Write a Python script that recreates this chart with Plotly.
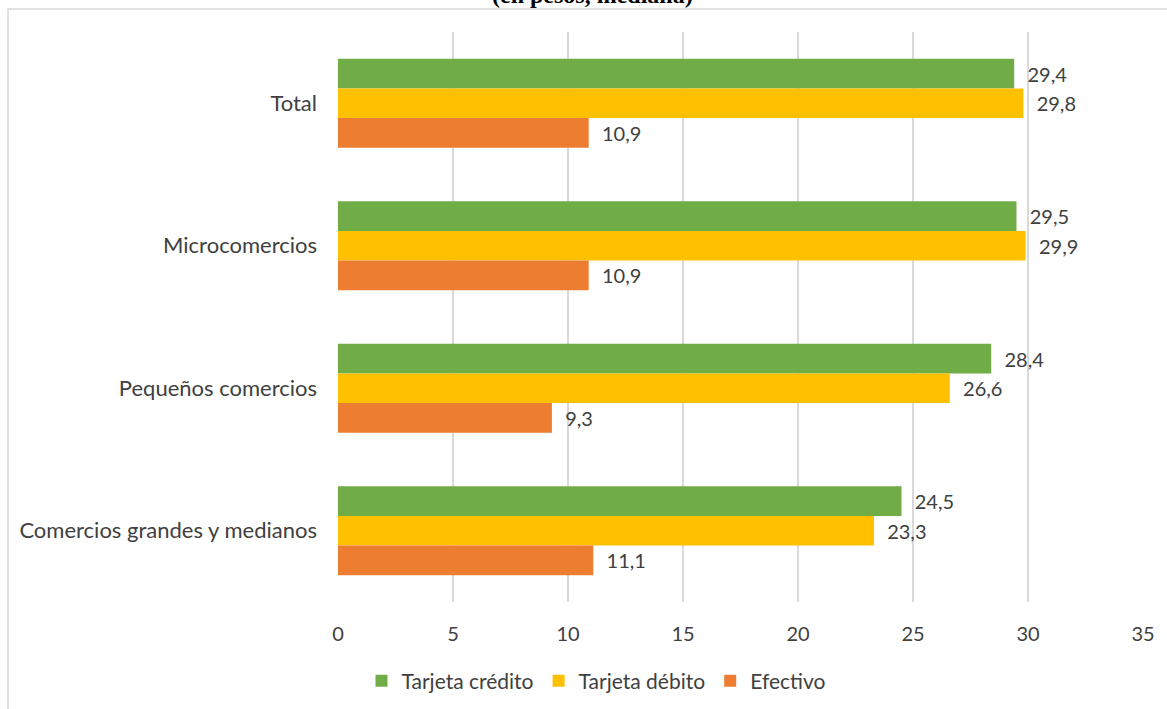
import plotly.graph_objects as go

# Commerce segments (top to bottom) and median values per payment method
categorias = ["Total", "Microcomercios", "Pequeños comercios", "Comercios grandes y medianos"]
tarjeta_credito = [29.4, 29.5, 28.4, 24.5]
tarjeta_debito = [29.8, 29.9, 26.6, 23.3]
efectivo = [10.9, 10.9, 9.3, 11.1]
x_ticks = [0, 5, 10, 15, 20, 25, 30, 35]

FONT = "Lato"
TXT = "#404040"

series = [
    ("Tarjeta crédito", tarjeta_credito, "#70AD47"),
    ("Tarjeta débito", tarjeta_debito, "#FFC000"),
    ("Efectivo", efectivo, "#ED7D31"),
]

fig = go.Figure()
for name, vals, color in series:
    fig.add_trace(go.Bar(
        y=categorias, x=vals, name=name, orientation="h",
        marker=dict(color=color, line=dict(width=0)),
        texttemplate="  %{x:.1f}", textposition="outside",
        textfont=dict(family=FONT, size=20, color=TXT),
        cliponaxis=False,
    ))

# Plot area: x 338..1143 px, y 32..602 px
L, R, T, B = 338, 24, 32, 107
W, H = 1167, 709
pw, ph = W - L - R, H - T - B

def px(xp):
    return (xp - L) / pw

def py(yp):
    return (H - B - yp) / ph

fig.update_layout(
    width=W, height=H,
    margin=dict(l=L, r=R, t=T, b=B, autoexpand=False),
    paper_bgcolor="white", plot_bgcolor="white",
    barmode="group", bargap=0.375, bargroupgap=0,
    separators=",.",
    font=dict(family=FONT, size=20, color=TXT),
    showlegend=True,
    legend=dict(
        orientation="h", x=px(596), xanchor="center", y=py(681), yanchor="middle",
        font=dict(family=FONT, size=21, color=TXT),
        traceorder="normal", itemwidth=30,
    ),
    xaxis=dict(
        range=[0, 35], tickvals=x_ticks, showgrid=True, gridcolor="#D9D9D9", gridwidth=1.5,
        zeroline=False, showline=False, ticks="", ticklabelstandoff=18, automargin=False,
        tickfont=dict(family=FONT, size=20, color=TXT),
    ),
    yaxis=dict(
        autorange="reversed", showgrid=False, zeroline=False, showline=False,
        ticks="", ticklabelstandoff=20, automargin=False,
        tickfont=dict(family=FONT, size=22, color=TXT),
    ),
    shapes=[
        dict(type="rect", xref="paper", yref="paper",
             x0=px(8), x1=px(1175), y0=py(720), y1=py(9),
             line=dict(color="#D9D9D9", width=1.5), layer="below"),
    ],
    annotations=[
        dict(text="<b>(en pesos, mediana)</b>", xref="paper", yref="paper",
             x=px(592), xanchor="center", y=py(10), yanchor="bottom",
             showarrow=False, font=dict(family="Liberation Serif", size=24, color="black")),
    ],
)

fig.write_html("out.html")
